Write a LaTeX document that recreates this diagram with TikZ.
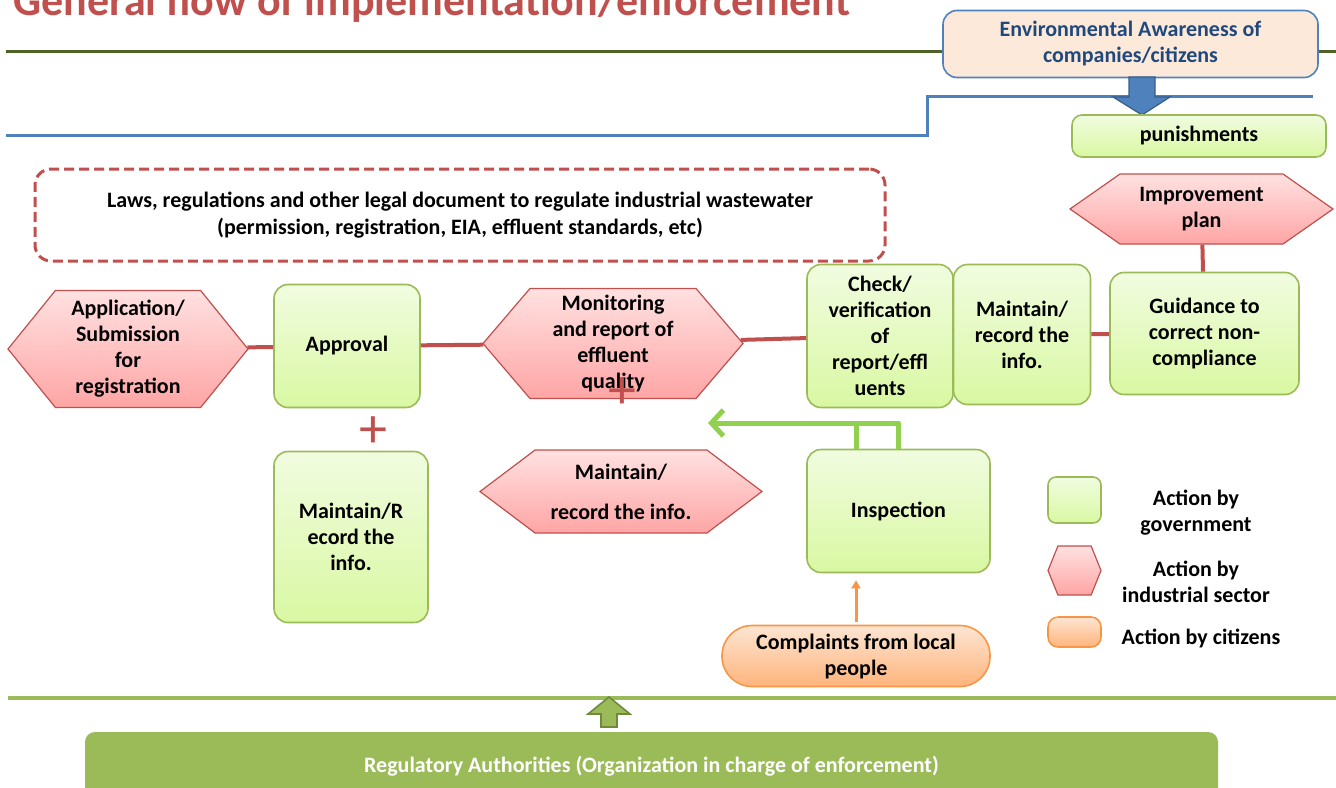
\documentclass[tikz,border=0pt]{standalone}
\usepackage{fontspec}
\setmainfont{Carlito}
\usetikzlibrary{shapes.symbols,arrows.meta}

\definecolor{redline}{HTML}{C0504D}
\definecolor{govline}{HTML}{9BBB59}
\definecolor{govdark}{HTML}{71893F}
\definecolor{govtop}{HTML}{F1FCE0}
\definecolor{govbot}{HTML}{D9F8A2}
\definecolor{indtop}{HTML}{FFE1E1}
\definecolor{indbot}{HTML}{FFA5A5}
\definecolor{cittop}{HTML}{FDE5D2}
\definecolor{citbot}{HTML}{FFB47C}
\definecolor{citline}{HTML}{F79646}
\definecolor{blueline}{HTML}{4F81BD}
\definecolor{bluedark}{HTML}{385D8A}
\definecolor{navy}{HTML}{1F497D}
\definecolor{olive}{HTML}{4F6228}
\definecolor{peach}{HTML}{FDE9D9}
\definecolor{arrowgreen}{HTML}{92D050}

\begin{document}
\begin{tikzpicture}[x=0.5pt, y=-0.5pt,
	every node/.style={font=\bfseries\fontsize{11}{13}\selectfont, align=center, inner sep=0pt},
	gov/.style={draw=govline, line width=0.8pt, rounded corners=7pt, top color=govtop, bottom color=govbot},
	ind/.style={draw=redline, line width=0.6pt, shape=signal, signal to=east and west, top color=indtop, bottom color=indbot},
	cit/.style={draw=citline, line width=0.8pt, top color=cittop, bottom color=citbot},
	link/.style={redline, line width=2pt},
	plusmark/.style={text=redline, font=\mdseries\fontsize{28}{28}\selectfont},
	]
	\useasboundingbox (0,0) rectangle (1336,787);
	\clip (0,0) rectangle (1336,787);

	\node[anchor=base west, text=redline, font=\bfseries\fontsize{22}{26}\selectfont] (title) at (13,15) {General flow of implementation/enforcement};
	\draw[olive, line width=1.5pt] (6,51) -- (1336,51);
	\draw[blueline, line width=1.5pt] (6,135) -- (927,135) -- (927,96) -- (1313,96);

	% awareness on top, pushing down to punishments
	\node[draw=blueline, line width=0.8pt, fill=peach, rounded corners=7pt, text=navy, minimum width=187.5pt, minimum height=33.5pt] (aware) at (1130.5,44) {Environmental Awareness of\\companies/citizens};
	\draw[bluedark, fill=blueline, line width=0.6pt] (1129,77) -- (1155,77) -- (1155,97) -- (1170,97) -- (1142,115) -- (1113,97) -- (1129,97) -- cycle;
	\node[gov, rounded corners=5pt, minimum width=127pt, minimum height=21pt] (punish) at (1199,136) {punishments};
	\node[ind, signal pointer angle=70, minimum width=131.5pt, minimum height=35pt] (improve) at (1201.5,209) {Improvement\\plan};

	\node[draw=redline, line width=1.5pt, dash pattern=on 5pt off 2.5pt, rounded corners=8pt, minimum width=425pt, minimum height=46pt, font=\bfseries\fontsize{11}{13.5}\selectfont] (laws) at (460,215) {Laws, regulations and other legal document to regulate industrial wastewater\\(permission, registration, EIA, effluent standards, etc)};

	% main row
	\node[ind, signal pointer angle=102, minimum width=120pt, minimum height=58.5pt] (apply) at (128,349) {Application/\\Submission\\for\\registration};
	\node[gov, minimum width=73pt, minimum height=61.5pt] (approve) at (347,346) {Approval};
	\node[ind, signal pointer angle=99, minimum width=130pt, minimum height=55pt] (monitor) at (613,343.5) {Monitoring\\and report of\\effluent\\quality};
	\node[gov, minimum width=73pt, minimum height=71.5pt] (check) at (880,336) {Check/\\verification\\of\\report/effl\\uents};
	\node[gov, minimum width=68.5pt, minimum height=70pt] (record) at (1022,334.5) {Maintain/\\record the\\info.};
	\node[gov, minimum width=94.5pt, minimum height=61pt] (guide) at (1204.5,333.5) {Guidance to\\correct non-\\compliance};

	\draw[link] (apply) -- (approve);
	\draw[link] (approve) -- (monitor);
	\draw[link] (monitor) -- (check);
	\draw[link] (record) -- (guide);
	\draw[link] (improve) -- (guide);

	\node[plusmark] (join1) at (373,432) {+};
	\node[plusmark] (join2) at (622,393) {+};

	\node[gov, minimum width=77pt, minimum height=85.5pt] (keep) at (351,537) {Maintain/R\\ecord the\\info.};
	\node[ind, signal pointer angle=74, minimum width=141pt, minimum height=41.5pt] (keephex) at (621,491.5) {Maintain/\\[7pt]record the info.};
	\node[gov, minimum width=91.5pt, minimum height=61.5pt] (inspect) at (898.5,511) {Inspection};
	\node[cit, rounded corners=15pt, minimum width=134pt, minimum height=30.5pt] (complaint) at (856,656) {Complaints from local\\people};

	\coordinate (fbtip) at (708,423);
	\coordinate (fbjoin) at (856,423);
	\draw[arrowgreen, line width=2.5pt, line join=round, -{Straight Barb[length=6pt,width=13pt]}] (inspect.north) |- (fbtip);
	\draw[arrowgreen, line width=2.5pt] (fbjoin |- inspect.north) -- (fbjoin);
	\draw[citline, line width=1.5pt, shorten <=1.5pt, shorten >=3.5pt, -{Triangle[length=4pt,width=4.5pt]}] (complaint) -- (complaint |- inspect.south);

	% key
	\node[gov, rounded corners=4pt, minimum width=26.5pt, minimum height=23pt] (keygov) at (1074.5,500) {};
	\node (keygovtext) at (1196,512.5) {Action by\\government};
	\node[ind, signal pointer angle=136, minimum width=26.5pt, minimum height=24.5pt] (keyind) at (1074.5,570.5) {};
	\node (keyindtext) at (1196,581.5) {Action by\\industrial sector};
	\node[cit, rounded corners=5pt, minimum width=26.5pt, minimum height=15pt] (keycit) at (1074.5,632) {};
	\node (keycittext) at (1201,638.5) {Action by citizens};

	% authority at the bottom
	\draw[govline, line width=2pt] (8,698) -- (1336,698);
	\draw[govdark, fill=govline, line width=0.8pt] (601,727) -- (617,727) -- (617,714) -- (630,714) -- (609,697) -- (588,714) -- (601,714) -- cycle;
	\node[fill=govline, rounded corners=5pt, minimum width=566.5pt, minimum height=34pt, text=white, font=\bfseries\fontsize{11}{13}\selectfont] (authority) at (651.5,766) {Regulatory Authorities (Organization in charge of enforcement)};
\end{tikzpicture}
\end{document}
